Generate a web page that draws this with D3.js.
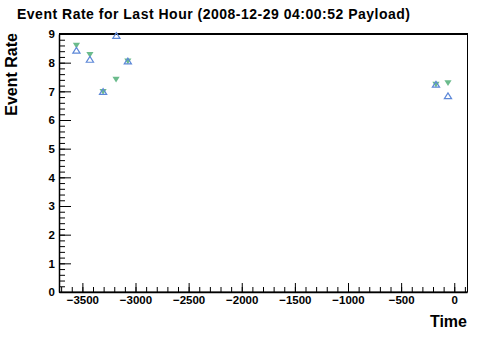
<!DOCTYPE html>
<html>
<head>
<meta charset="utf-8">
<script src="https://cdn.jsdelivr.net/npm/d3@7"></script>
<style>
  body { margin: 0; background: #fff; }
  text { font-family: "Liberation Sans", Arial, sans-serif; font-weight: bold; }
</style>
</head>
<body>
<div id="chart"></div>
<script>
// seconds before the payload time, and event rates per series
const greenTimes = [-3556, -3429, -3183, -3072, -3305, -172, -59];
const greenRates = [8.62, 8.30, 7.43, 8.07, 7.01, 7.26, 7.31];
const blueTimes = [-3556, -3429, -3180, -3072, -3305, -172, -59];
const blueRates = [8.41, 8.09, 8.92, 8.03, 6.97, 7.22, 6.82];
const xTickValues = [-3500, -3000, -2500, -2000, -1500, -1000, -500, 0];
const yTickValues = [0, 1, 2, 3, 4, 5, 6, 7, 8, 9];

const W = 492, H = 344;
const margin = { left: 59, right: 25, top: 34, bottom: 52 };
const width = W - margin.left - margin.right;
const height = H - margin.top - margin.bottom;

const svg = d3.select('#chart').append('svg')
  .attr('width', W).attr('height', H);

svg.append('text')
  .attr('x', 17).attr('y', 19)
  .attr('font-size', 14)
  .attr('textLength', 393)
  .text('Event Rate for Last Hour (2008-12-29 04:00:52 Payload)');

const g = svg.append('g')
  .attr('transform', 'translate(' + margin.left + ',' + margin.top + ')');

const x = d3.scaleLinear().domain([-3720, 120]).range([0, width]);
const y = d3.scaleLinear().domain([0, 9]).range([height, 0]);

// frame
g.append('rect')
  .attr('x', 0.5).attr('y', 0.5)
  .attr('width', width).attr('height', height - 0.5)
  .attr('fill', 'none').attr('stroke', '#000');
g.append('line')
  .attr('x1', 0).attr('x2', width + 1).attr('y1', 0).attr('y2', 0)
  .attr('stroke', '#000').attr('stroke-width', 2);

const styleLabels = a => a.selectAll('text')
  .attr('font-size', 11.5).attr('font-weight', 'bold')
  .attr('font-family', '"Liberation Sans", Arial, sans-serif').attr('fill', '#000');

// x axis: minor then major
const xMinor = d3.range(-3700, 101, 100);
g.append('g')
  .attr('transform', 'translate(0,' + height + ')')
  .call(d3.axisBottom(x).tickValues(xMinor).tickSize(-5).tickFormat(''))
  .call(a => a.select('.domain').remove());
g.append('g')
  .attr('transform', 'translate(0,' + height + ')')
  .call(d3.axisBottom(x).tickValues(xTickValues).tickFormat(d3.format('d'))
    .tickSizeInner(-9).tickSizeOuter(0).tickPadding(4))
  .call(a => a.select('.domain').attr('stroke-width', 1.5))
  .call(styleLabels);

// y axis: minor then major
const yMinor = d3.range(0, 9.01, 0.2);
g.append('g')
  .call(d3.axisLeft(y).tickValues(yMinor).tickSize(-6).tickFormat(''))
  .call(a => a.select('.domain').remove());
g.append('g')
  .call(d3.axisLeft(y).tickValues(yTickValues).tickFormat(d3.format('d'))
    .tickSizeInner(-12).tickSizeOuter(0).tickPadding(4))
  .call(a => a.select('.domain').attr('stroke-width', 1.5))
  .call(styleLabels);

// axis titles
svg.append('text')
  .attr('text-anchor', 'end')
  .attr('transform', 'translate(17,33) rotate(-90)')
  .attr('font-size', 16)
  .text('Event Rate');
svg.append('text')
  .attr('text-anchor', 'end')
  .attr('x', margin.left + width).attr('y', 327)
  .attr('font-size', 16)
  .text('Time');

// markers
const tri = 3.6;
const green = greenTimes.map((t, i) => ({ t, v: greenRates[i] }));
const blue = blueTimes.map((t, i) => ({ t, v: blueRates[i] }));

g.selectAll('.down').data(green).enter().append('path')
  .attr('class', 'down')
  .attr('d', d => {
    const cx = x(d.t), cy = y(d.v);
    return 'M' + (cx - tri) + ',' + (cy - tri * 0.6) + 'L' + (cx + tri) + ',' + (cy - tri * 0.6) +
      'L' + cx + ',' + (cy + tri) + 'Z';
  })
  .attr('fill', '#6bbb8c');

g.selectAll('.up').data(blue).enter().append('path')
  .attr('class', 'up')
  .attr('d', d => {
    const cx = x(d.t), cy = y(d.v);
    return 'M' + (cx - tri) + ',' + (cy + tri * 0.6) + 'L' + (cx + tri) + ',' + (cy + tri * 0.6) +
      'L' + cx + ',' + (cy - tri) + 'Z';
  })
  .attr('fill', 'none')
  .attr('stroke', '#5d88d8')
  .attr('stroke-width', 1.2);
</script>
</body>
</html>
